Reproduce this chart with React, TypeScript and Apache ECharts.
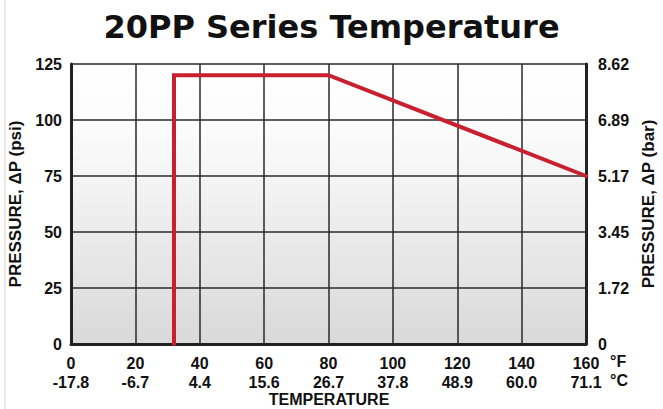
import React, { useEffect, useRef } from "react";
import * as echarts from "echarts";

const tempF = [0, 20, 40, 60, 80, 100, 120, 140, 160];
const tempC = ["-17.8", "-6.7", "4.4", "15.6", "26.7", "37.8", "48.9", "60.0", "71.1"];
const psiTicks = [0, 25, 50, 75, 100, 125];
const barTicks = ["0", "1.72", "3.45", "5.17", "6.89", "8.62"];
const curveTemp = [32, 32, 80, 160];
const curvePsi = [0, 120, 120, 75];

const FONT = "'Liberation Sans', Arial, sans-serif";

export default function App() {
  const ref = useRef<HTMLDivElement>(null);
  useEffect(() => {
    document.body.style.margin = "0";
    const chart = echarts.init(ref.current!, null, { renderer: "svg" });
    const labelStyle = { fontFamily: FONT, fontWeight: "bold" as const, fontSize: 16, color: "#111" };
    chart.setOption({
      animation: false,
      backgroundColor: "#fff",
      title: {
        text: "20PP Series Temperature",
        left: "center",
        top: 6,
        textStyle: { fontFamily: "'DejaVu Sans', sans-serif", fontWeight: "bold", fontSize: 32, color: "#111" },
      },
      grid: {
        left: 71,
        right: 77,
        top: 64,
        bottom: 65,
        outerBoundsMode: "none",
        show: true,
        borderWidth: 0,
        backgroundColor: new echarts.graphic.LinearGradient(0, 0, 0, 1, [
          { offset: 0, color: "#ffffff" },
          { offset: 0.25, color: "#fbfbfb" },
          { offset: 1, color: "#d9d9d9" },
        ]),
      },
      xAxis: {
        type: "value",
        min: tempF[0],
        max: tempF[tempF.length - 1],
        interval: 20,
        axisLine: { show: true, lineStyle: { color: "#222", width: 3 } },
        axisTick: { show: false },
        splitLine: { show: true, lineStyle: { color: "#2a2a2a", width: 1.5 } },
        axisLabel: {
          ...labelStyle,
          margin: 10,
          lineHeight: 19,
          formatter: (v: number) => `${v}\n${tempC[tempF.indexOf(v)] ?? ""}`,
        },
      },
      yAxis: [
        {
          type: "value",
          min: 0,
          max: 125,
          interval: 25,
          position: "left",
          name: "PRESSURE, ΔP (psi)",
          nameLocation: "middle",
          nameRotate: 90,
          nameGap: 45,
          nameTextStyle: { ...labelStyle, fontSize: 17 },
          axisLine: { show: true, lineStyle: { color: "#222", width: 3 } },
          axisTick: { show: false },
          splitLine: { show: true, lineStyle: { color: "#2a2a2a", width: 1.5 } },
          axisLabel: { ...labelStyle, margin: 9, formatter: (v: number) => String(v) },
        },
        {
          type: "value",
          min: 0,
          max: 125,
          interval: 25,
          position: "right",
          name: "PRESSURE, ΔP (bar)",
          nameLocation: "middle",
          nameRotate: 90,
          nameGap: 52,
          nameTextStyle: { ...labelStyle, fontSize: 17 },
          axisLine: { show: true, lineStyle: { color: "#222", width: 3 } },
          axisTick: { show: false },
          splitLine: { show: false },
          axisLabel: {
            ...labelStyle,
            margin: 12,
            formatter: (v: number) => barTicks[psiTicks.indexOf(v)] ?? "",
          },
        },
      ],
      graphic: [
        { type: "line", shape: { x1: 5, y1: 0, x2: 5, y2: 409 }, style: { stroke: "#d0d0d0", lineWidth: 1 } },
        { type: "text", left: 610, top: 353, style: { text: "°F", font: `bold 16px ${FONT}`, fill: "#111" } },
        { type: "text", left: 610, top: 372, style: { text: "°C", font: `bold 16px ${FONT}`, fill: "#111" } },
        {
          type: "text",
          x: 329,
          y: 399,
          style: { text: "TEMPERATURE", font: `bold 16px ${FONT}`, fill: "#111", align: "center", verticalAlign: "middle" },
        },
      ],
      series: [
        {
          type: "line",
          yAxisIndex: 0,
          data: curveTemp.map((t, i) => [t, curvePsi[i]]),
          showSymbol: false,
          symbol: "none",
          lineStyle: { color: "#c8202f", width: 4, cap: "round", join: "miter" },
          z: 5,
        },
      ],
    });
    return () => chart.dispose();
  }, []);
  return <div ref={ref} style={{ width: 663, height: 409 }} />;
}
